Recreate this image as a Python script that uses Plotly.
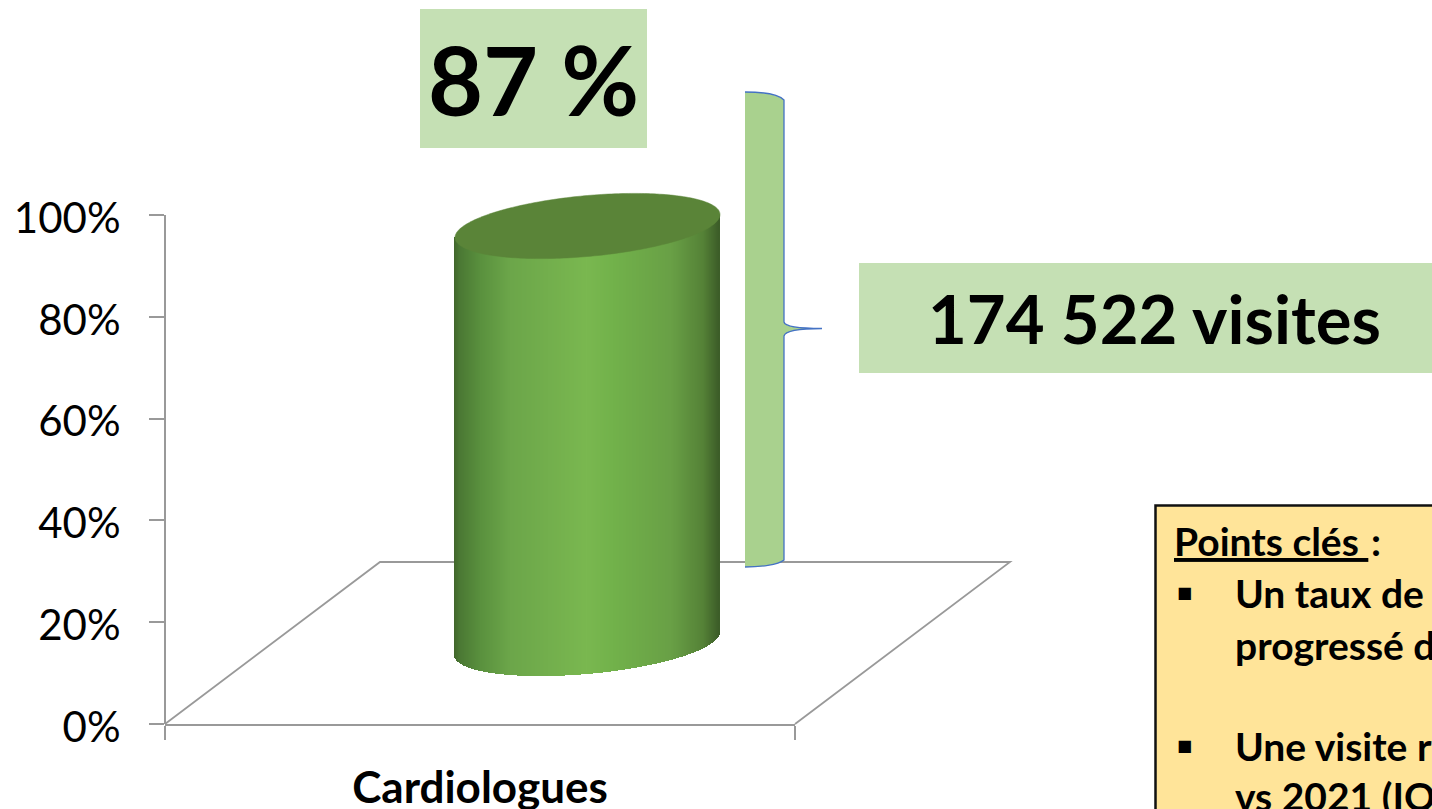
import numpy as np
import plotly.graph_objects as go

# ---- chart data ----
categories = ["Cardiologues"]
values = [87]
y_ticks = [0, 20, 40, 60, 80, 100]
y_tick_labels = ["0%", "20%", "40%", "60%", "80%", "100%"]
badge_value = "87 %"
badge_visits = "174 522 visites"
key_title = "Points clés\u00a0"
key_lines = ["Un taux de", "progressé de", "Une visite r", "vs 2021 (IQ"]

# ---- page geometry (pixels) ----
W, H = 1432, 809
L, R, T, B = 165, 795, 215, 724
FONT = "Lato"
AXIS_GREY = "#999999"
PX_X = R - L            # pixels per x-axis unit (range -0.5..0.5)
PX_Y = (B - T) / 100    # pixels per percent


def px2x(p):
    return (p - L) / PX_X - 0.5


def py2y(p):
    return (B - p) / PX_Y


# paper coordinates are relative to the plot area
def paper_x(p):
    return (p - L) / (R - L)


def paper_y(p):
    return (B - p) / (B - T)


# 3D projection of the cylinder: drawn through the chart's axes
CX = px2x(587.5)
HALF_W = 132.5 / PX_X
SHEAR = 0.0868 * PX_X / PX_Y    # percent per x unit
MINOR = 30.5 / PX_Y             # percent
FLOOR_LEVEL = py2y(643.5)
DEPTH_SCALE = (py2y(226) - FLOOR_LEVEL) / values[0]
top_level = FLOOR_LEVEL + values[0] * DEPTH_SCALE

stops = [(0.0, (66, 102, 44)), (0.02, (75, 120, 52)), (0.10, (90, 145, 62)), (0.21, (108, 166, 74)),
         (0.50, (122, 184, 80)), (0.60, (114, 178, 75)), (0.82, (105, 160, 70)),
         (0.94, (85, 130, 55)), (1.0, (60, 92, 40))]
sx = [s[0] for s in stops]


def shade(t):
    return "rgb(%d,%d,%d)" % tuple(np.interp(t, sx, [s[1][i] for s in stops]) for i in range(3))


n = 265
ts = (np.arange(n) + 0.5) / n
xs = CX + (ts * 2 - 1) * HALF_W
u = (xs - CX) / HALF_W
rim = MINOR * np.sqrt(1 - u ** 2)
lower = FLOOR_LEVEL + SHEAR * (xs - CX) - rim
upper = top_level + SHEAR * (xs - CX)

fig = go.Figure()
fig.add_trace(go.Bar(
    x=xs, y=upper - lower, base=lower, width=2 * HALF_W / n * 1.6,
    marker=dict(color=[shade(t) for t in ts], line=dict(width=0)),
    cliponaxis=False, hoverinfo="skip", showlegend=False))

shapes = []

# floor of the 3D chart
fx = [165, 380, 1010, 795]
fy = [724, 562, 562, 724]


def P(a, b):
    return f"{paper_x(a):.5f},{paper_y(b):.5f}"


shapes.append(dict(type="path", xref="paper", yref="paper",
                   path="M " + " L ".join(P(a, b) for a, b in zip(fx, fy)),
                   line=dict(color=AXIS_GREY, width=1.8), layer="below"))
# vertical axis line, centred on the plot edge
shapes.append(dict(type="line", xref="paper", yref="paper", x0=0, x1=0, y0=0, y1=1,
                   line=dict(color=AXIS_GREY, width=2), layer="below"))

# top ellipse, from the same data levels (axis x -> paper x+0.5, percent -> paper y/100)
ang = np.linspace(0, 2 * np.pi, 241)
ex = CX + HALF_W * np.cos(ang) + 0.5
ey = (top_level + SHEAR * HALF_W * np.cos(ang) + MINOR * np.sin(ang)) / 100
shapes.append(dict(type="path", xref="paper", yref="paper",
                   path="M " + " L ".join(f"{a:.5f},{b:.5f}" for a, b in zip(ex, ey)) + " Z",
                   fillcolor="#5A8438", line=dict(color="#5A8438", width=0.5), layer="above"))

brace_edge = ("C " + P(760, 92) + " " + P(778, 94) + " " + P(784, 100) +
              " L " + P(784, 322) +
              " C " + P(785, 327) + " " + P(800, 328.5) + " " + P(822, 328.5) +
              " C " + P(800, 328.5) + " " + P(785, 331) + " " + P(784, 336) +
              " L " + P(784, 560) +
              " C " + P(778, 565) + " " + P(760, 567) + " " + P(745, 567))
shapes.append(dict(type="path", xref="paper", yref="paper",
                   path="M " + P(745, 92) + " " + brace_edge + " Z",
                   fillcolor="#A9D18E", line=dict(width=0), layer="above"))
shapes.append(dict(type="path", xref="paper", yref="paper",
                   path="M " + P(745, 92) + " " + brace_edge,
                   line=dict(color="#4472C4", width=1.3), layer="above"))


def rect(x0, y0, x1, y1, fill, line=None):
    shapes.append(dict(type="rect", xref="paper", yref="paper",
                       x0=paper_x(x0), x1=paper_x(x1), y0=paper_y(y1), y1=paper_y(y0),
                       fillcolor=fill, line=line or dict(width=0), layer="above"))


rect(420, 9, 647, 148, "#C5E0B4")
rect(859, 263, 1445, 373, "#C5E0B4")
rect(1155.5, 505.5, 1445, 830, "#FFE499", dict(color="#111111", width=2.5))


def text(x, y, s, size, bold=True, anchor="left", **font):
    fig.add_annotation(xref="paper", yref="paper", x=paper_x(x), y=paper_y(y), text=s,
                       showarrow=False, xanchor=anchor, yanchor="middle", align=anchor,
                       borderpad=0, borderwidth=0,
                       font=dict(family=FONT, size=size, color="#000000",
                                 weight="bold" if bold else "normal", **font))


text(533, 79, badge_value, 95, anchor="center")
text(1154, 318, badge_visits, 67, anchor="center")
text(1174, 541, key_title, 39, lineposition="under")
text(1371, 541, ":", 39)
for (line, y) in zip(key_lines, [593, 645, 746, 796]):
    text(1235, y, line, 39)
for y in [592, 745]:
    fig.add_annotation(xref="paper", yref="paper", x=paper_x(1184), y=paper_y(y), text="■",
                       showarrow=False, xanchor="center", yanchor="middle",
                       font=dict(family="DejaVu Sans", size=16, color="#000000"))

fig.update_layout(
    width=W, height=H, autosize=False,
    margin=dict(l=L, r=W - R, t=T, b=H - B, pad=0, autoexpand=False),
    paper_bgcolor="#FFFFFF", plot_bgcolor="rgba(0,0,0,0)",
    showlegend=False, shapes=shapes, bargap=0, hovermode=False,
    font=dict(family=FONT, color="#000000"),
    xaxis=dict(range=[-0.5, 0.5], tickmode="array", tickvals=[0], ticktext=categories,
               ticks="", showgrid=False, zeroline=False, showline=True,
               linecolor=AXIS_GREY, linewidth=2, ticklabelstandoff=24,
               tickfont=dict(family=FONT, size=44, color="#000000", weight="bold"),
               minor=dict(tickmode="array", tickvals=[-0.5, 0.5], ticks="outside", ticklen=14,
                          tickcolor=AXIS_GREY, tickwidth=2, showgrid=False),
               fixedrange=True),
    yaxis=dict(range=[0, 100], tickmode="array", tickvals=y_ticks, ticktext=y_tick_labels,
               ticks="outside", ticklen=15, tickcolor=AXIS_GREY, tickwidth=2,
               showgrid=False, zeroline=False, showline=False, ticklabelshift=3,
               ticklabelstandoff=20,
               tickfont=dict(family=FONT, size=42, color="#000000"), fixedrange=True),
)

fig.write_html("out.html", config=dict(displayModeBar=False, responsive=False),
               post_script="document.body.style.margin='0';document.body.style.overflow='hidden';")
